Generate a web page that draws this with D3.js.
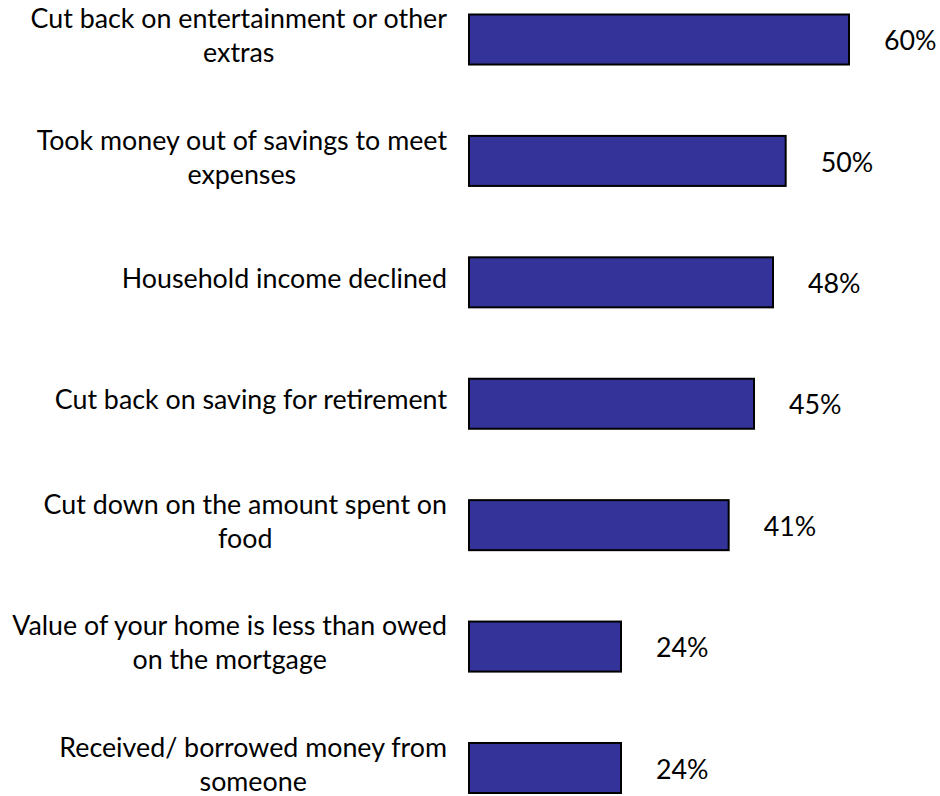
<!DOCTYPE html>
<html>
<head>
<meta charset="utf-8">
<script src="https://cdn.jsdelivr.net/npm/d3@7"></script>
<style>
  body { margin: 0; background: #fff; }
  text { font-family: Lato, "Open Sans", sans-serif; fill: #000; }
</style>
</head>
<body>
<div id="chart"></div>
<script>
// categories (line breaks as in the original wrapping)
const categories = [
  "Cut back on entertainment or other\nextras",
  "Took money out of savings to meet\nexpenses",
  "Household income declined",
  "Cut back on saving for retirement",
  "Cut down on the amount spent on\nfood",
  "Value of your home is less than owed\non the mortgage",
  "Received/ borrowed money from\nsomeone"
];
const values = [60, 50, 48, 45, 41, 24, 24];

const width = 940, height = 796;
const barLeft = 469;
const labelRight = 447;
const fontSize = 26.8;
const lineHeight = 34;

const svg = d3.select("#chart").append("svg")
  .attr("width", width)
  .attr("height", height);

const x = d3.scaleLinear().domain([0, 60]).range([barLeft, 849]);
const y = d3.scaleBand()
  .domain(categories)
  .range([14.5, 793])
  .paddingInner(0.588)
  .paddingOuter(0);

const data = categories.map((c, i) => ({ cat: c, value: values[i] }));

// bars
svg.append("g").selectAll("rect")
  .data(data)
  .enter()
  .append("rect")
  .attr("x", x(0))
  .attr("y", d => y(d.cat))
  .attr("width", d => x(d.value) - x(0))
  .attr("height", y.bandwidth())
  .attr("fill", "#333399")
  .attr("stroke", "#000")
  .attr("stroke-width", 2);

// value labels
svg.append("g").selectAll("text")
  .data(data)
  .enter()
  .append("text")
  .attr("x", d => x(d.value) + 35)
  .attr("y", d => y(d.cat) + y.bandwidth() / 2 + 1)
  .attr("dy", "0.36em")
  .style("font-size", fontSize + "px")
  .text(d => d.value + "%");

// category labels: lines centred on each other, block right aligned
const labels = svg.append("g").selectAll("g")
  .data(data)
  .enter()
  .append("g");

labels.each(function (d) {
  const g = d3.select(this);
  const lines = d.cat.split("\n");
  const cy = y(d.cat) + y.bandwidth() / 2 - 4;
  const texts = lines.map((line, i) =>
    g.append("text")
      .attr("y", cy + (i - (lines.length - 1) / 2) * lineHeight)
      .attr("dy", "0.36em")
      .attr("text-anchor", "middle")
      .style("font-size", fontSize + "px")
      .text(line)
  );
  const maxW = d3.max(texts, t => t.node().getComputedTextLength());
  texts.forEach(t => t.attr("x", labelRight - maxW / 2));
});
</script>
</body>
</html>
